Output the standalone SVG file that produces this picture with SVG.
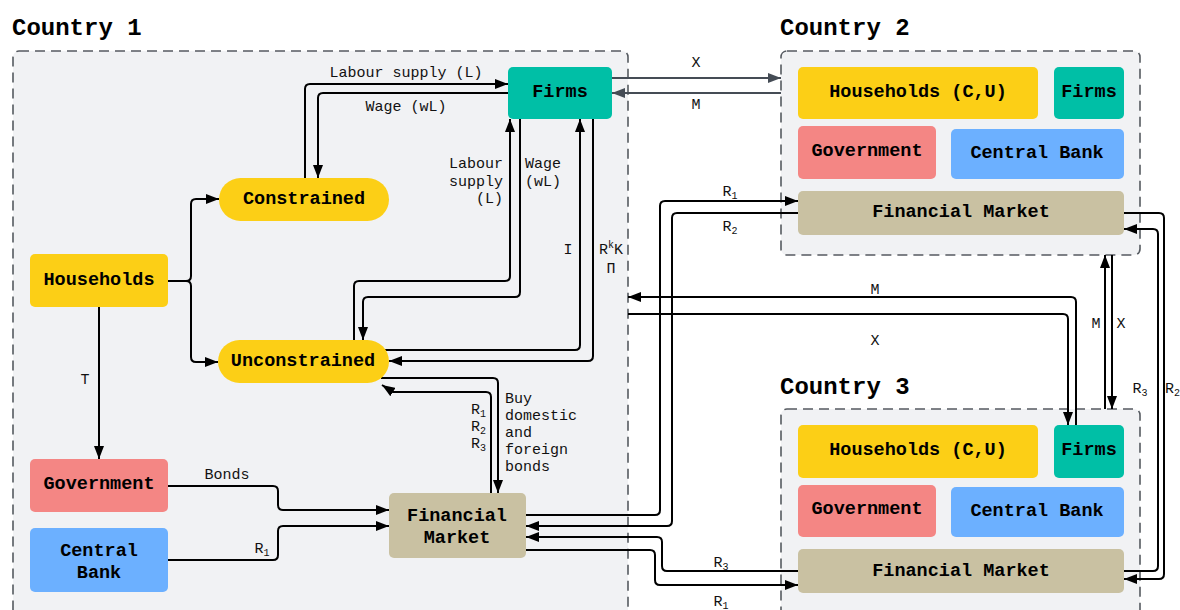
<svg xmlns="http://www.w3.org/2000/svg" width="1180" height="610" viewBox="0 0 1180 610">
<defs>
<style>
.box{fill:#f1f2f4;stroke:#555a60;stroke-width:1.6;stroke-dasharray:10 6}
.t{font-family:"Liberation Mono",monospace;font-weight:bold;font-size:24px;fill:#000}
.n{font-family:"Liberation Mono",monospace;font-weight:bold;font-size:18.5px;text-anchor:middle;dominant-baseline:central;fill:#000}
.l{font-family:"Liberation Mono",monospace;font-size:15px;fill:#111}
.c{text-anchor:middle}
.r{text-anchor:end}
.s{font-size:10px}
.yel{fill:#fccf16}
.teal{fill:#00bfa6}
.red{fill:#f48684}
.blue{fill:#6cb0ff}
.tan{fill:#c9c1a2}
.k{fill:none;stroke:#000;stroke-width:2;marker-end:url(#a)}
.g{fill:none;stroke:#454c55;stroke-width:2;marker-end:url(#ag)}
</style>
<marker id="a" viewBox="0 0 13 10" refX="13" refY="5" markerWidth="13" markerHeight="10" markerUnits="userSpaceOnUse" orient="auto"><path d="M0,0L13,5L0,10z" fill="#000"/></marker>
<marker id="ag" viewBox="0 0 13 10" refX="13" refY="5" markerWidth="13" markerHeight="10" markerUnits="userSpaceOnUse" orient="auto"><path d="M0,0L13,5L0,10z" fill="#454c55"/></marker>
</defs>
<rect width="1180" height="610" fill="#fff"/>

<g id="country1">
<rect class="box" x="13" y="51" width="615" height="600" rx="6"/>
<text class="t" x="12" y="35">Country 1</text>
</g>
<g id="country2">
<rect class="box" x="781" y="51" width="359" height="204" rx="6"/>
<text class="t" x="780" y="35">Country 2</text>
</g>
<g id="country3">
<rect class="box" x="781" y="409" width="359" height="240" rx="6"/>
<text class="t" x="780" y="394">Country 3</text>
</g>

<g id="connectors">
<path class="k" d="M305,178V89Q305,84 310,84H508"/>
<path class="k" d="M508,93H323Q318,93 318,98V178"/>
<path class="k" d="M168,281H186Q191,281 191,276V204Q191,199 196,199H219"/>
<path class="k" d="M186,281Q191,281 191,286V357Q191,362 196,362H218"/>
<path class="k" d="M354,340V286Q354,281 359,281H505Q510,281 510,276V119"/>
<path class="k" d="M520,119V292Q520,297 515,297H368Q363,297 363,302V340"/>
<path class="k" d="M385,350H575Q580,350 580,345V119"/>
<path class="k" d="M593,119V356Q593,361 588,361H389"/>
<path class="k" d="M99,307V459"/>
<path class="k" d="M381,378H493Q498,378 498,383V493"/>
<path class="k" d="M491,493V397Q491,392 486,392H393L382,385"/>
<path class="k" d="M168,486H273Q278,486 278,491V505Q278,510 283,510H389"/>
<path class="k" d="M168,560H273Q278,560 278,555V531Q278,526 283,526H389"/>
<path class="g" d="M612,78H781"/>
<path class="g" d="M781,93H612"/>
<path class="k" d="M1076,425V302Q1076,297 1071,297H628"/>
<path class="k" d="M628,314H1063Q1068,314 1068,319V425"/>
<path class="k" d="M526,515H655Q660,515 660,510V206Q660,201 665,201H798"/>
<path class="k" d="M798,213H677Q672,213 672,218V521Q672,526 667,526H526"/>
<path class="k" d="M798,571H667Q662,571 662,566V542Q662,537 657,537H526"/>
<path class="k" d="M526,550H650Q655,550 655,555V580Q655,585 660,585H798"/>
<path class="k" d="M1105,409V255"/>
<path class="k" d="M1112,255V409"/>
<path class="k" d="M1124,213H1159Q1164,213 1164,218V574Q1164,579 1159,579H1124"/>
<path class="k" d="M1124,571H1153Q1158,571 1158,566V234Q1158,229 1153,229H1124"/>

<text class="l c" x="406" y="77">Labour supply (L)</text>
<text class="l c" x="406" y="111">Wage (wL)</text>
<text class="l r" x="503" y="168">Labour</text>
<text class="l r" x="503" y="186">supply</text>
<text class="l r" x="503" y="203">(L)</text>
<text class="l" x="525" y="168">Wage</text>
<text class="l" x="525" y="186">(wL)</text>
<text class="l c" x="568" y="254">I</text>
<text class="l c" x="611" y="254">R<tspan class="s" dy="-6">k</tspan><tspan dy="6">K</tspan></text>
<text class="l c" x="611" y="273">Π</text>
<text class="l c" x="85" y="384">T</text>
<text class="l r" x="486" y="414">R<tspan class="s" dy="3">1</tspan></text>
<text class="l r" x="486" y="431">R<tspan class="s" dy="3">2</tspan></text>
<text class="l r" x="486" y="448">R<tspan class="s" dy="3">3</tspan></text>
<text class="l" x="505" y="403">Buy</text>
<text class="l" x="505" y="420">domestic</text>
<text class="l" x="505" y="437">and</text>
<text class="l" x="505" y="454">foreign</text>
<text class="l" x="505" y="471">bonds</text>
<text class="l c" x="227" y="479">Bonds</text>
<text class="l c" x="262" y="553">R<tspan class="s" dy="3">1</tspan></text>
<text class="l c" x="696" y="67">X</text>
<text class="l c" x="696" y="109">M</text>
<text class="l c" x="875" y="294">M</text>
<text class="l c" x="875" y="345">X</text>
<text class="l c" x="730" y="196">R<tspan class="s" dy="3">1</tspan></text>
<text class="l c" x="730" y="231">R<tspan class="s" dy="3">2</tspan></text>
<text class="l c" x="721" y="567">R<tspan class="s" dy="3">3</tspan></text>
<text class="l c" x="721" y="606">R<tspan class="s" dy="3">1</tspan></text>
<text class="l c" x="1096" y="328">M</text>
<text class="l c" x="1121" y="328">X</text>
<text class="l c" x="1140" y="393">R<tspan class="s" dy="3">3</tspan></text>
<text class="l" x="1165" y="393">R<tspan class="s" dy="3">2</tspan></text>
</g>

<g id="c1-firms"><rect class="teal" x="508" y="67" width="104" height="52" rx="5"/><text class="n" x="560" y="92">Firms</text></g>
<g id="c1-constrained"><rect class="yel" x="219" y="178" width="170" height="43" rx="21.5"/><text class="n" x="304" y="199">Constrained</text></g>
<g id="c1-unconstrained"><rect class="yel" x="218" y="340" width="171" height="43" rx="21.5"/><text class="n" x="303" y="361">Unconstrained</text></g>
<g id="c1-households"><rect class="yel" x="30" y="254" width="138" height="53" rx="5"/><text class="n" x="99" y="280">Households</text></g>
<g id="c1-government"><rect class="red" x="30" y="459" width="138" height="53" rx="5"/><text class="n" x="99" y="484">Government</text></g>
<g id="c1-centralbank"><rect class="blue" x="30" y="528" width="138" height="64" rx="5"/><text class="n" x="99" y="551">Central</text><text class="n" x="99" y="573">Bank</text></g>
<g id="c1-financial"><rect class="tan" x="389" y="493" width="137" height="65" rx="5"/><text class="n" x="457" y="516">Financial</text><text class="n" x="457" y="538">Market</text></g>

<g id="c2-households"><rect class="yel" x="798" y="67" width="240" height="52" rx="5"/><text class="n" x="918" y="92">Households (C,U)</text></g>
<g id="c2-firms"><rect class="teal" x="1054" y="67" width="70" height="52" rx="5"/><text class="n" x="1089" y="92">Firms</text></g>
<g id="c2-government"><rect class="red" x="798" y="126" width="138" height="53" rx="5"/><text class="n" x="867" y="151">Government</text></g>
<g id="c2-centralbank"><rect class="blue" x="951" y="129" width="173" height="50" rx="5"/><text class="n" x="1037" y="153">Central Bank</text></g>
<g id="c2-financial"><rect class="tan" x="798" y="191" width="326" height="44" rx="5"/><text class="n" x="961" y="212">Financial Market</text></g>

<g id="c3-households"><rect class="yel" x="798" y="425" width="240" height="53" rx="5"/><text class="n" x="918" y="450">Households (C,U)</text></g>
<g id="c3-firms"><rect class="teal" x="1054" y="425" width="70" height="53" rx="5"/><text class="n" x="1089" y="450">Firms</text></g>
<g id="c3-government"><rect class="red" x="798" y="485" width="138" height="52" rx="5"/><text class="n" x="867" y="509">Government</text></g>
<g id="c3-centralbank"><rect class="blue" x="951" y="487" width="173" height="50" rx="5"/><text class="n" x="1037" y="511">Central Bank</text></g>
<g id="c3-financial"><rect class="tan" x="798" y="549" width="326" height="44" rx="5"/><text class="n" x="961" y="571">Financial Market</text></g>
</svg>
